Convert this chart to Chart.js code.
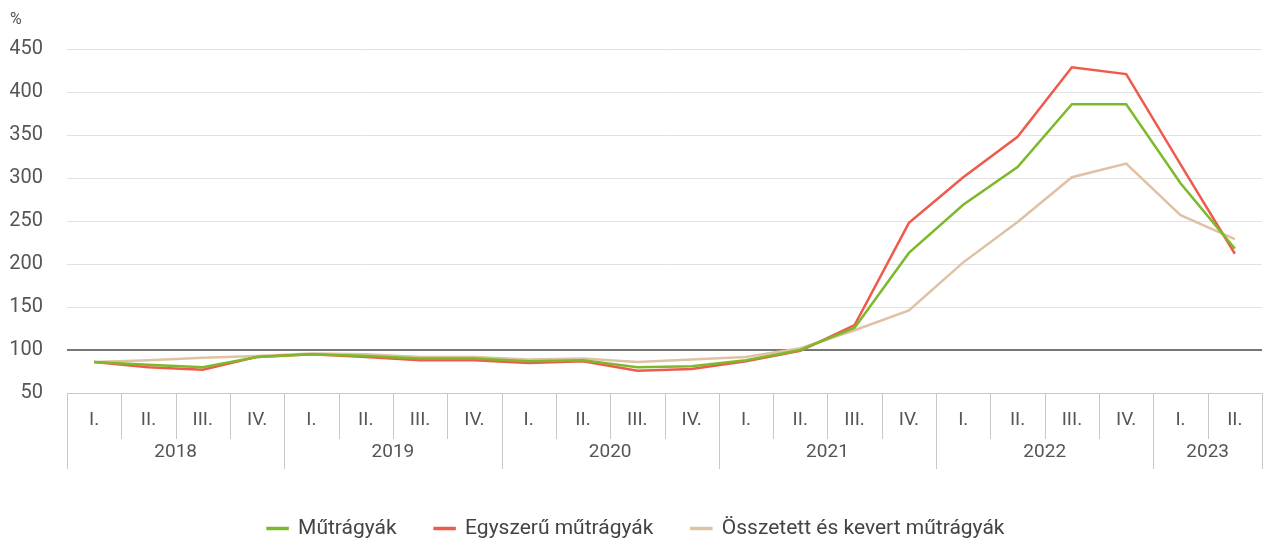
<!DOCTYPE html>
<html>
<head>
<meta charset="utf-8">
<script src="https://cdn.jsdelivr.net/npm/chart.js@4/dist/chart.umd.min.js"></script>
<style>
  html, body { margin: 0; padding: 0; background: #fff; }
  #wrap { width: 1270px; height: 539px; }
</style>
</head>
<body>
<div id="wrap"><canvas id="myChart"></canvas></div>
<script>
// negyedévek és évek
const quarters = ['I.', 'II.', 'III.', 'IV.', 'I.', 'II.', 'III.', 'IV.', 'I.', 'II.', 'III.', 'IV.',
  'I.', 'II.', 'III.', 'IV.', 'I.', 'II.', 'III.', 'IV.', 'I.', 'II.'];
const years = ['2018', '2019', '2020', '2021', '2022', '2023'];
const quartersPerYear = [4, 4, 4, 4, 4, 2];

// adatsorok (%)
const mutragyak = [86, 83, 80, 92, 95, 93, 90, 90, 87, 88, 80, 81, 88, 100, 126, 213, 269, 313, 386, 386, 294, 218];
const egyszeru = [86, 80, 77, 92, 95, 92, 88, 88, 85, 87, 76, 78, 87, 99, 129, 248, 301, 348, 429, 421, 316, 212];
const osszetett = [86, 88, 91, 93, 96, 95, 92, 92, 89, 90, 86, 89, 92, 102, 123, 146, 202, 249, 301, 317, 257, 229];

const yTicks = [50, 100, 150, 200, 250, 300, 350, 400, 450];

const tickColor = '#555';
const sepColor = '#c8c8c8';

// x tengely alatti elválasztók és évcímkék
const yearRowPlugin = {
  id: 'yearRow',
  afterDraw(chart) {
    const x = chart.scales.x;
    const ctx = chart.ctx;
    const top = chart.chartArea.bottom;
    const half = (x.getPixelForValue(1) - x.getPixelForValue(0)) / 2;
    ctx.save();
    ctx.strokeStyle = sepColor;
    ctx.lineWidth = 1;
    // negyedév elválasztók
    for (let i = 0; i <= quarters.length; i++) {
      const px = Math.round(x.getPixelForValue(i) - half) + 0.5;
      ctx.beginPath();
      ctx.moveTo(px, top);
      ctx.lineTo(px, top + 46);
      ctx.stroke();
    }
    // év elválasztók és címkék
    ctx.font = '19px Roboto';
    ctx.fillStyle = tickColor;
    ctx.textAlign = 'center';
    ctx.textBaseline = 'middle';
    let idx = 0;
    years.forEach((yr, k) => {
      const left = x.getPixelForValue(idx) - half;
      const right = x.getPixelForValue(idx + quartersPerYear[k] - 1) + half;
      [left, right].forEach(p => {
        const px = Math.round(p) + 0.5;
        ctx.beginPath();
        ctx.moveTo(px, top);
        ctx.lineTo(px, top + 76);
        ctx.stroke();
      });
      ctx.fillText(yr, (left + right) / 2, top + 59);
      idx += quartersPerYear[k];
    });
    ctx.restore();
  }
};

function makeSet(label, data, color) {
  return {
    label: label,
    data: data,
    borderColor: color,
    backgroundColor: color,
    borderWidth: 2.5,
    pointRadius: 0,
    tension: 0
  };
}

const ctx = document.getElementById('myChart').getContext('2d');
const myChart = new Chart(ctx, {
  type: 'line',
  data: {
    labels: quarters,
    datasets: [
      makeSet('Műtrágyák', mutragyak, '#7db92a'),
      makeSet('Egyszerű műtrágyák', egyszeru, '#ef5a4c'),
      makeSet('Összetett és kevert műtrágyák', osszetett, '#dfc1a3')
    ]
  },
  options: {
    responsive: true,
    maintainAspectRatio: false,
    animation: false,
    layout: { padding: { left: 10, right: 8, top: 0, bottom: -10 } },
    plugins: {
      title: {
        display: true,
        text: '%',
        align: 'start',
        color: tickColor,
        font: { family: 'Roboto', size: 16, weight: 'normal' },
        padding: { top: 10, bottom: 20 }
      },
      legend: {
        position: 'bottom',
        labels: {
          color: '#444',
          font: { family: 'Roboto', size: 21 },
          boxWidth: 20,
          boxHeight: 1,
          padding: 38
        }
      },
      tooltip: { enabled: false }
    },
    scales: {
      x: {
        offset: true,
        grid: { display: false },
        border: { display: false },
        ticks: {
          color: tickColor,
          font: { family: 'Roboto', size: 19 },
          padding: 8,
          maxRotation: 0,
          autoSkip: false
        },
        afterFit(scale) { scale.height = 87; }
      },
      y: {
        min: 50,
        max: 450,
        afterBuildTicks(scale) { scale.ticks = yTicks.map(v => ({ value: v })); },
        afterFit(scale) { scale.width = 57; },
        border: { display: false },
        grid: {
          drawTicks: false,
          color: c => c.tick.value === 100 ? '#777' : (c.tick.value === 50 ? sepColor : '#e2e2e2'),
          lineWidth: c => c.tick.value === 100 ? 2 : 1
        },
        ticks: {
          color: tickColor,
          font: { family: 'Roboto', size: 20 },
          padding: 24
        }
      }
    }
  },
  plugins: [yearRowPlugin]
});
</script>
</body>
</html>
